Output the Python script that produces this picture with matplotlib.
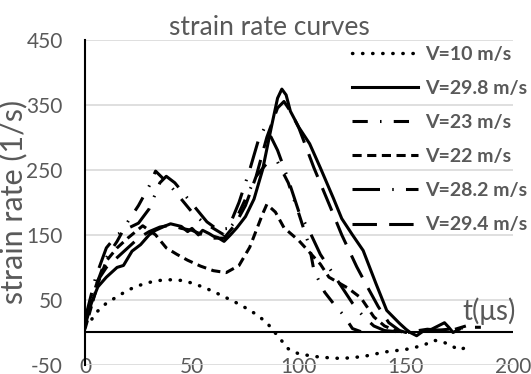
import numpy as np
import matplotlib
matplotlib.use('Agg')
import matplotlib.pyplot as plt

plt.rcParams['font.family'] = ['Lato', 'DejaVu Sans']
plt.rcParams['axes.unicode_minus'] = False

grey = '#595959'

# strain rate curves, t in microseconds, strain rate in 1/s
t_10 = [0, 2, 5, 10, 15, 20, 25, 30, 35, 40, 45, 50, 55, 60, 65, 70, 75, 80, 85, 90, 95, 100,
        110, 120, 130, 140, 150, 158, 163, 167, 171, 175, 180]
sr_10 = [10, 14, 30, 45, 55, 65, 72, 77, 80, 81, 80, 76, 70, 63, 55, 47, 38, 28, 15, -5, -25, -33,
         -38, -40, -37, -30, -26, -20, -12, -14, -20, -27, -20]

t_298 = [0, 3, 6, 10, 15, 18, 22, 26, 30, 33, 37, 40, 45, 48, 50, 53, 55, 58, 60, 62, 65, 68, 71, 75,
         79, 83, 87, 90, 92, 94, 96, 100, 105, 110, 116, 120, 125, 130, 136, 141, 147, 150, 152,
         155, 158, 162, 165, 168, 170, 172, 175]
sr_298 = [10, 45, 70, 85, 100, 103, 125, 135, 150, 157, 163, 167, 163, 155, 160, 150, 157, 152, 148,
          146, 140, 150, 161, 178, 205, 250, 314, 360, 374, 365, 340, 315, 290, 253, 207, 175, 150,
          126, 75, 34, 14, 5, 0, -5, 2, 5, 10, 15, 8, 0, 5]

t_23 = [0, 5, 10, 15, 20, 25, 30, 33, 37, 40, 45, 50, 55, 60, 65, 70, 75, 80, 85, 90, 95, 100, 105,
        107, 112, 116, 121, 125, 130]
sr_23 = [15, 70, 115, 140, 170, 195, 225, 248, 235, 225, 205, 185, 170, 160, 150, 170, 205, 240, 260,
         262, 230, 182, 131, 95, 62, 45, 26, 6, 0]

t_22 = [0, 3, 6, 10, 15, 20, 27, 33, 38, 43, 48, 54, 60, 66, 72, 77, 83, 85, 89, 93, 100, 110, 114,
        123, 129, 135, 140, 145, 150]
sr_22 = [5, 40, 75, 110, 130, 145, 164, 150, 130, 120, 111, 102, 95, 92, 103, 131, 182, 197, 185, 161,
         141, 105, 85, 68, 53, 24, 10, 3, 0]

t_282 = [0, 5, 10, 15, 20, 25, 30, 35, 38, 42, 47, 52, 57, 62, 67, 72, 77, 81, 84, 87, 90, 95, 100,
         105, 110, 115, 120, 125, 130, 135, 140, 150, 160, 170, 180, 185]
sr_282 = [20, 85, 130, 150, 160, 168, 190, 230, 240, 230, 210, 190, 170, 158, 160, 200, 250, 295, 315,
          300, 280, 235, 185, 155, 120, 95, 70, 45, 25, 10, 3, 0, 2, 5, 8, 8]

t_294 = [0, 3, 6, 10, 15, 20, 25, 30, 35, 40, 45, 50, 55, 60, 65, 70, 75, 80, 85, 90, 93, 96, 100,
         107, 115, 120, 127, 132, 137, 142, 147, 150, 160, 170, 178]
sr_294 = [15, 50, 80, 100, 115, 130, 145, 155, 162, 165, 160, 157, 150, 145, 145, 165, 195, 240, 300,
          345, 355, 340, 314, 253, 190, 150, 101, 70, 40, 15, 3, 0, 5, 2, 10]

labels = ['V=10 m/s', 'V=29.8 m/s', 'V=23 m/s', 'V=22 m/s', 'V=28.2 m/s', 'V=29.4 m/s']

fig = plt.figure(figsize=(5.31, 3.74), dpi=100)
ax = fig.add_axes([0.160, 0.024, 0.806, 0.870])

lw = 2.2
ax.plot(t_10, sr_10, color='k', lw=2.5, linestyle=(0, (0.1, 2.8)), dash_capstyle='round', label=labels[0])
ax.plot(t_298, sr_298, color='k', lw=lw, label=labels[1])
ax.plot(t_23, sr_23, color='k', lw=lw, linestyle=(0, (5, 4, 0.5, 4)), label=labels[2])
ax.plot(t_22, sr_22, color='k', lw=lw, linestyle=(0, (3, 1.8)), label=labels[3])
ax.plot(t_282, sr_282, color='k', lw=lw, linestyle=(0, (9, 4, 0.5, 4)), label=labels[4])
ax.plot(t_294, sr_294, color='k', lw=lw, linestyle=(0, (8, 4)), label=labels[5])

ax.set_xlim(0, 200)
ax.set_ylim(-50, 450)
ax.set_yticks(np.arange(-50, 451, 100))
ax.set_xticks([0, 50, 100, 150, 200])
ax.grid(axis='y', color='#d9d9d9', lw=1.2)
ax.set_axisbelow(True)
ax.axhline(0, color='k', lw=1.5, zorder=1.5)
for s in ['top', 'right', 'bottom']:
    ax.spines[s].set_visible(False)
ax.spines['left'].set_linewidth(1.5)
ax.tick_params(axis='y', length=0, colors=grey, labelsize=15, pad=16)
ax.tick_params(axis='x', length=0, colors=grey, labelsize=15, pad=-6)

ax.set_ylabel('strain rate (1/s)', color=grey, fontsize=22)
ax.yaxis.set_label_coords(-0.135, 0.5)
ax.set_title('strain rate curves', color=grey, fontsize=19, pad=-1, x=0.432)
ax.text(189, 32, 't(\u03bcs)', color=grey, fontsize=20, ha='center', va='center')

leg = ax.legend(loc='upper left', bbox_to_anchor=(0.624, 0.981), frameon=False, borderpad=0,
                borderaxespad=0, handlelength=3.4, labelspacing=0.88, handletextpad=0.35,
                prop={'weight': 'bold', 'size': 14})
for txt in leg.get_texts():
    txt.set_color(grey)

plt.savefig('out.png', dpi=100)
plt.close()
